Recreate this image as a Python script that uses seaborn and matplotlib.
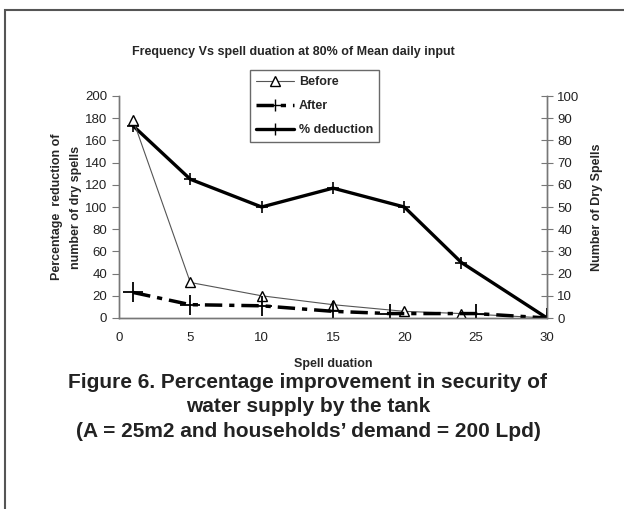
import numpy as np
import pandas as pd
import matplotlib.pyplot as plt
import seaborn as sns
from matplotlib.patches import Rectangle
from matplotlib.lines import Line2D

sns.set_style("white")
plt.rcParams['font.family'] = ['Liberation Sans', 'DejaVu Sans']

# data
before_x = [1, 5, 10, 15, 20, 24, 30]
before_y = [89, 16, 10, 6, 3, 2, 0]          # right axis (number of dry spells)
after_x = [1, 5, 10, 15, 19, 25, 30]
after_y = [11.5, 6, 5.5, 3, 2, 2, 0]         # right axis
deduct_x = [1, 5, 10, 15, 20, 24, 30]
deduct_y = [173, 125, 100, 117, 100, 50, 0]  # left axis (percentage)

fig = plt.figure(figsize=(6.24, 5.09), dpi=100)
ax = fig.add_axes([119/624, 1-318/509, (547-119)/624, (318-96)/509])
ax2 = ax.twinx()

sns.lineplot(x=deduct_x, y=deduct_y, ax=ax, color="black", lw=2.4,
             marker="+", markersize=9, markeredgewidth=1.2,
             markeredgecolor="black")
sns.lineplot(x=before_x, y=before_y, ax=ax2, color="#555555", lw=0.8,
             marker="^", markersize=6.5, markerfacecolor="white",
             markeredgecolor="black", markeredgewidth=1)
sns.lineplot(x=after_x, y=after_y, ax=ax2, color="black", lw=2.5,
             marker="+", markersize=15, markeredgewidth=1.3,
             markeredgecolor="black")
ax2.lines[-1].set_dashes([5, 2, 1.5, 2])

ax.set_xlim(0, 30)
ax.set_ylim(0, 200)
ax2.set_ylim(0, 100)
ax.set_xticks(range(0, 31, 5))
ax.set_yticks(range(0, 201, 20))
ax2.set_yticks(range(0, 101, 10))

for a in (ax, ax2):
    a.spines['top'].set_visible(False)
    for s in ('left', 'right', 'bottom'):
        a.spines[s].set_color("#777777")
        a.spines[s].set_linewidth(1)
    a.tick_params(labelsize=9.5, colors="#222222", length=5, width=0.8)
ax.tick_params(axis='y', direction='out', color="#777777")
ax.tick_params(axis='x', direction='inout', color="#777777", length=8, pad=6)
ax2.tick_params(axis='y', direction='inout', color="#777777", length=8)

ax.set_xlabel("Spell duation", fontsize=9, fontweight="bold", labelpad=10)
ax.set_ylabel("Percentage  reduction of\nnumber of dry spells", fontsize=9,
              fontweight="bold", labelpad=2, linespacing=1.8)
ax2.set_ylabel("Number of Dry Spells", fontsize=9, fontweight="bold", labelpad=8)

fig.text(293/624, 1-52/509, "Frequency Vs spell duation at 80% of Mean daily input",
         ha="center", va="center", fontsize=9, fontweight="bold")

handles = [
    Line2D([], [], color="#555555", lw=0.8, marker="^", markersize=6.5,
           markerfacecolor="white", markeredgecolor="black"),
    Line2D([], [], color="black", lw=2.5, marker="+", markersize=9,
           dashes=[5, 2, 1.5, 2]),
    Line2D([], [], color="black", lw=2.4, marker="+", markersize=9),
]
leg = fig.legend(handles, ["Before", "After", "% deduction"],
                 loc="upper left", bbox_to_anchor=(250/624, 1-70/509),
                 fontsize=9, frameon=True, fancybox=False, edgecolor="#444444",
                 handlelength=3.0, handletextpad=0.4, borderpad=0.5,
                 labelspacing=0.95, borderaxespad=0)
for t in leg.get_texts():
    t.set_fontweight("bold")

fig.text(308/624, 1-407/509,
         "Figure 6. Percentage improvement in security of\nwater supply by the tank\n"
         "(A = 25m2 and households\u2019 demand = 200 Lpd)",
         ha="center", va="center", fontsize=15, fontweight="bold",
         color="#222222", linespacing=1.35)

fig.patches.append(Rectangle((5/624, -0.05), 1.0, 1-10/509+0.05,
                             transform=fig.transFigure, fill=False,
                             edgecolor="#555555", lw=1.5))

fig.savefig("out.png", dpi=100)
